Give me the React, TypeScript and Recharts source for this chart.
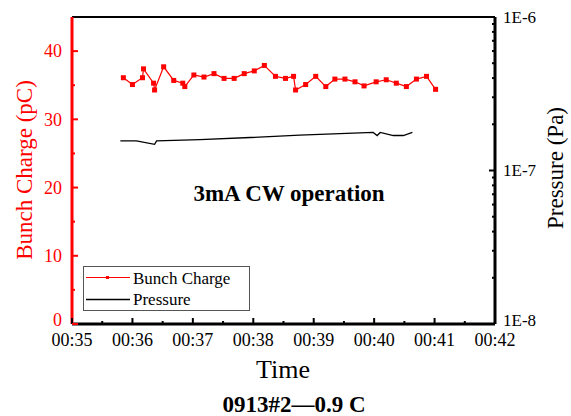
import React from 'react';
import { LineChart, Line, XAxis, YAxis, ReferenceLine } from 'recharts';

// seconds after 00:35:00
const chargeTimes = [51, 60, 70, 71, 81, 82, 91, 101, 110, 112, 121, 131, 141, 151, 161, 171, 181, 191, 202, 212, 220, 222, 232, 242, 252, 261, 271, 281, 290, 302, 312, 322, 332, 342, 352, 361];
const chargeValues = [36.1, 35.1, 36.1, 37.4, 35.3, 34.3, 37.7, 35.7, 35.3, 34.8, 36.5, 36.2, 36.7, 36.0, 36.0, 36.7, 37.1, 37.9, 36.3, 36.0, 36.3, 34.3, 35.1, 36.3, 34.8, 35.9, 35.9, 35.5, 34.9, 35.5, 35.8, 35.3, 34.8, 35.9, 36.3, 34.4];

const pressureTimes = [48, 64, 82, 84, 127, 177, 226, 266, 299, 303, 306, 319, 329, 338];
const pressureValues = [1.56e-7, 1.56e-7, 1.48e-7, 1.56e-7, 1.59e-7, 1.64e-7, 1.7e-7, 1.74e-7, 1.77e-7, 1.69e-7, 1.77e-7, 1.69e-7, 1.69e-7, 1.77e-7];

const timeTicks = [0, 30, 60, 90, 120, 150, 180, 210, 240, 270, 300, 330, 360, 390, 420];
const timeLabels = ['00:35', '00:36', '00:37', '00:38', '00:39', '00:40', '00:41', '00:42'];
const chargeTicks = [0, 5, 10, 15, 20, 25, 30, 35, 40];
const pressureDecades = [-8, -7, -6];

const pressureTicks: number[] = [];
pressureDecades.forEach((e, i) => {
  const steps = i === pressureDecades.length - 1 ? [1] : [1, 2, 3, 4, 5, 6, 7, 8, 9];
  steps.forEach((k) => pressureTicks.push(k * Math.pow(10, e)));
});

const chargeData = chargeTimes.map((t, i) => ({ t, charge: chargeValues[i] }));
const pressureData = pressureTimes.map((t, i) => ({ t, pressure: pressureValues[i] }));

const FONT = "'Liberation Serif', 'Times New Roman', serif";
const RED = '#ff0000';
const LEFT_MARGIN = 10;
const RIGHT_MARGIN = 8;
const BOTTOM_MARGIN = 8;
const serif = { fontFamily: FONT };

const LeftTick = (props: any) => {
  const { x, y, payload } = props;
  const ax = x + LEFT_MARGIN;
  const major = payload.value % 10 === 0;
  return (
    <g>
      <line x1={ax} x2={ax + (major ? 6 : 3)} y1={y} y2={y} stroke={RED} strokeWidth={2} />
      {major && (
        <text x={x} y={y - (payload.value === 0 ? 4 : 0)} dy="0.35em" textAnchor="end" fill={RED} fontSize={18} style={serif}>
          {payload.value}
        </text>
      )}
    </g>
  );
};

const BottomTick = (props: any) => {
  const { x, y, payload } = props;
  const ay = y - BOTTOM_MARGIN;
  const major = payload.value % 60 === 0;
  return (
    <g>
      <line x1={x} x2={x} y1={ay} y2={ay - (major ? 6 : 3)} stroke="#000" strokeWidth={2} />
      {major && (
        <text x={x} y={ay + 22} textAnchor="middle" fill="#000" fontSize={18} style={serif}>
          {timeLabels[payload.value / 60]}
        </text>
      )}
    </g>
  );
};

const RightTick = (props: any) => {
  const { x, y, payload } = props;
  const ax = x - RIGHT_MARGIN;
  const lg = Math.log10(payload.value);
  const major = Math.abs(lg - Math.round(lg)) < 1e-6;
  const shift = Math.round(lg) === -8 ? 4 : 0;
  return (
    <g>
      <line x1={ax} x2={ax - (major ? 6 : 3)} y1={y} y2={y} stroke="#000" strokeWidth={2} />
      {major && (
        <text x={x} y={y - shift} dy="0.35em" textAnchor="start" fill="#000" fontSize={17} style={serif}>
          {`1E${Math.round(lg)}`}
        </text>
      )}
    </g>
  );
};

const SquareDot = (props: any) => {
  const { cx, cy, index } = props;
  return <rect key={`d-${index}`} x={cx - 2.5} y={cy - 2.5} width={5} height={5} fill={RED} />;
};

export default function App() {
  return (
    <div style={{ position: 'absolute', left: 0, top: 0, width: 571, height: 416, background: '#fff', fontFamily: FONT }}>
      <LineChart width={571} height={416} margin={{ top: 17, right: 0, bottom: 0, left: 0 }} style={serif}>
        <XAxis
          xAxisId="t"
          type="number"
          dataKey="t"
          domain={[0, 420]}
          ticks={timeTicks}
          interval={0}
          height={92}
          tickSize={0}
          tickMargin={BOTTOM_MARGIN}
          tick={<BottomTick />}
          axisLine={{ stroke: '#000', strokeWidth: 3 }}
          allowDataOverflow
        />
        <YAxis
          yAxisId="left"
          orientation="left"
          type="number"
          domain={[0, 45]}
          ticks={chargeTicks}
          interval={0}
          width={72}
          tickSize={0}
          tickMargin={LEFT_MARGIN}
          tick={<LeftTick />}
          axisLine={{ stroke: RED, strokeWidth: 3 }}
          allowDataOverflow
        />
        <YAxis
          yAxisId="right"
          orientation="right"
          type="number"
          scale="log"
          domain={[1e-8, 1e-6]}
          ticks={pressureTicks}
          interval={0}
          width={76}
          tickSize={0}
          tickMargin={RIGHT_MARGIN}
          tick={<RightTick />}
          axisLine={{ stroke: '#000', strokeWidth: 3 }}
          allowDataOverflow
        />
        <ReferenceLine xAxisId="t" yAxisId="left" y={45} stroke="#000" strokeWidth={2} />
        <Line
          xAxisId="t"
          yAxisId="right"
          data={pressureData}
          dataKey="pressure"
          stroke="#000"
          strokeWidth={1.3}
          dot={false}
          isAnimationActive={false}
        />
        <Line
          xAxisId="t"
          yAxisId="left"
          data={chargeData}
          dataKey="charge"
          stroke={RED}
          strokeWidth={1.2}
          dot={SquareDot}
          isAnimationActive={false}
        />
      </LineChart>
      <svg width={571} height={416} style={{ position: 'absolute', left: 0, top: 0, pointerEvents: 'none', fontFamily: FONT }}>
        <text x={24} y={170} transform="rotate(-90 24 170)" textAnchor="middle" dominantBaseline="central" fill={RED} fontSize={23}>
          Bunch Charge (pC)
        </text>
        <text x={555} y={168} transform="rotate(-90 555 168)" textAnchor="middle" dominantBaseline="central" fill="#000" fontSize={23}>
          Pressure (Pa)
        </text>
        <text x={283} y={378} textAnchor="middle" fill="#000" fontSize={26}>
          Time
        </text>
        <text x={294} y={412} textAnchor="middle" fill="#000" fontSize={23} fontWeight="bold">
          0913#2—0.9 C
        </text>
        <text x={289} y={201} textAnchor="middle" fill="#000" fontSize={23} fontWeight="bold">
          3mA CW operation
        </text>
        <rect x={83.5} y={266.5} width={166} height={44} fill="#fff" stroke="#555" strokeWidth={1} />
        <line x1={86} x2={130} y1={277.5} y2={277.5} stroke={RED} strokeWidth={1.2} />
        <rect x={106} y={276} width={3} height={3} fill={RED} />
        <text x={133} y={283.5} fill="#000" fontSize={17}>Bunch Charge</text>
        <line x1={86} x2={130} y1={299.5} y2={299.5} stroke="#000" strokeWidth={1.3} />
        <text x={133} y={305} fill="#000" fontSize={17}>Pressure</text>
      </svg>
    </div>
  );
}
